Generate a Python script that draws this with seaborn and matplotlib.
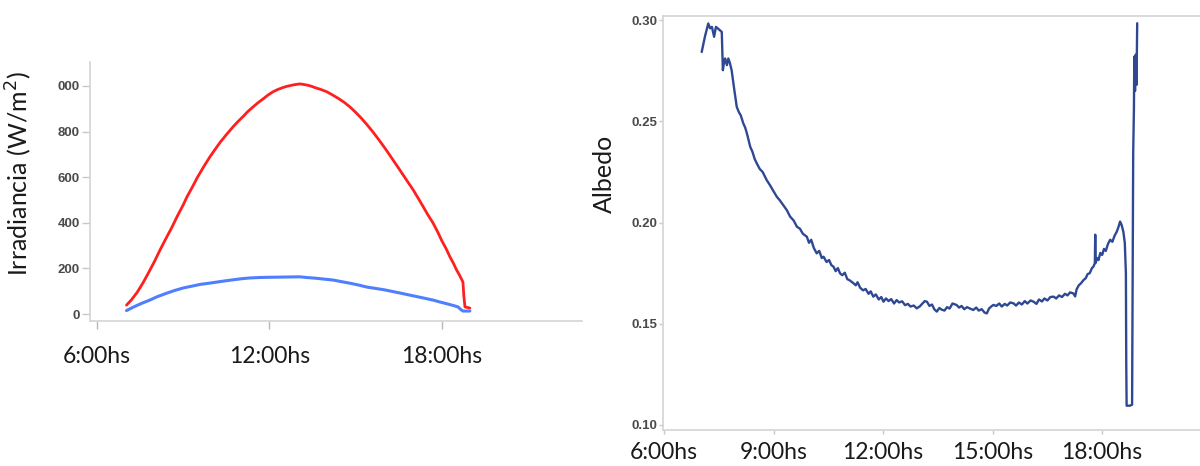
import matplotlib
matplotlib.use("Agg")
import matplotlib.pyplot as plt
import seaborn as sns
import pandas as pd

# ---------------- data ----------------
# Left panel: irradiance (W/m2) vs hour of day
irr_hours_red = [7.03, 7.20, 7.40, 7.60, 7.80, 8.00, 8.20, 8.43, 8.60, 8.80, 9.00, 9.13, 9.30,
                 9.50, 9.70, 9.93, 10.10, 10.30, 10.50, 10.73, 10.90, 11.10, 11.25, 11.43,
                 11.60, 11.80, 11.95, 12.12, 12.30, 12.45, 12.60, 12.85, 13.06, 13.30, 13.45,
                 13.60, 13.80, 14.00, 14.20, 14.40, 14.60, 14.80, 15.00, 15.20, 15.40, 15.60,
                 15.80, 16.00, 16.15, 16.30, 16.50, 16.70, 16.85, 17.00, 17.20, 17.35, 17.50,
                 17.69, 17.85, 18.00, 18.15, 18.28, 18.40, 18.50, 18.62, 18.73, 18.76, 18.80,
                 18.97]
irr_red = [39, 62, 95, 136, 182, 230, 282, 338, 378, 430, 478, 513, 552,
           600, 643, 689, 720, 755, 786, 820, 843, 868, 888, 908,
           926, 945, 960, 974, 985, 992, 998, 1005, 1009, 1004, 999,
           992, 984, 974, 960, 945, 928, 908, 884, 858, 829, 798,
           765, 730, 703, 675, 638, 600, 572, 544, 502, 470, 437,
           399, 360, 320, 285, 250, 222, 195, 168, 140, 80, 31,
           26]

irr_hours_blue = [7.03, 7.20, 7.40, 7.60, 7.84, 8.10, 8.40, 8.70, 9.00, 9.30, 9.60, 9.90,
                  10.17, 10.50, 10.80, 11.05, 11.32, 11.65, 12.00, 12.50, 13.06, 13.30, 13.60,
                  13.90, 14.21, 14.50, 14.80, 15.10, 15.39, 15.70, 16.00, 16.27, 16.54, 16.80,
                  17.10, 17.40, 17.69, 17.95, 18.20, 18.40, 18.56, 18.65, 18.73, 18.97]
irr_blue = [15, 26, 38, 49, 61, 76, 90, 103, 114, 122, 130, 135,
            140, 146, 151, 155, 158, 160, 161, 162, 163, 160, 157,
            153, 149, 142, 135, 127, 118, 112, 106, 99, 92, 85,
            77, 69, 61, 52, 44, 37, 31, 20, 13, 13]

irr_yticks = [0, 200, 400, 600, 800, 1000]
irr_yticklabels = ["0", "200", "400", "600", "800", "000"]
irr_xticks = [6, 12, 18]
irr_xticklabels = ["6:00hs", "12:00hs", "18:00hs"]

# Right panel: albedo vs hour of day
alb_hours = [7.03, 7.12, 7.21, 7.26, 7.31, 7.37, 7.42, 7.50, 7.58, 7.61, 7.64, 7.67, 7.72, 7.76,
             7.80, 7.85, 7.92, 7.99, 8.05, 8.10, 8.17, 8.22, 8.27, 8.36, 8.42, 8.48, 8.54, 8.62,
             8.70, 8.81, 8.90, 8.98, 9.09, 9.17, 9.25, 9.36, 9.45, 9.55, 9.64, 9.72, 9.80, 9.91,
             9.97, 10.03, 10.10, 10.18, 10.25, 10.32, 10.37, 10.45, 10.52, 10.58, 10.64, 10.70,
             10.76, 10.82, 10.88, 10.95, 11.02, 11.08, 11.19, 11.25, 11.30, 11.37, 11.45, 11.52,
             11.60, 11.66, 11.73, 11.80, 11.88, 11.95, 12.01, 12.08, 12.15, 12.22, 12.30, 12.37,
             12.44, 12.52, 12.60, 12.68, 12.75, 12.84, 12.92, 13.00, 13.08, 13.14, 13.20, 13.27,
             13.34, 13.40, 13.47, 13.54, 13.60, 13.68, 13.75, 13.82, 13.90, 14.01, 14.08, 14.15,
             14.22, 14.30, 14.38, 14.47, 14.55, 14.62, 14.70, 14.78, 14.84, 14.90, 14.96, 15.02,
             15.10, 15.18, 15.25, 15.33, 15.40, 15.48, 15.57, 15.64, 15.72, 15.80, 15.88, 15.95,
             16.04, 16.12, 16.20, 16.27, 16.35, 16.42, 16.50, 16.58, 16.67, 16.74, 16.82, 16.90,
             16.98, 17.05, 17.12, 17.21, 17.26, 17.30, 17.36, 17.42, 17.49, 17.55, 17.60, 17.66,
             17.72, 17.76, 17.80, 17.81, 17.82, 17.86, 17.90, 17.95, 18.00, 18.05, 18.10, 18.16,
             18.22, 18.28, 18.34, 18.40, 18.45, 18.49, 18.53, 18.58, 18.62, 18.65, 18.66, 18.67,
             18.70, 18.76, 18.82, 18.83, 18.85, 18.87, 18.88, 18.90, 18.92, 18.94, 18.96]
alb_values = [0.2843, 0.2920, 0.2984, 0.2960, 0.2967, 0.2918, 0.2967, 0.2955, 0.2942, 0.2753,
              0.2790, 0.2811, 0.2778, 0.2811, 0.2790, 0.2753, 0.2660, 0.2572, 0.2545, 0.2530,
              0.2490, 0.2470, 0.2440, 0.2374, 0.2350, 0.2315, 0.2292, 0.2265, 0.2250, 0.2210,
              0.2185, 0.2160, 0.2127, 0.2110, 0.2090, 0.2062, 0.2030, 0.2010, 0.1979, 0.1970,
              0.1945, 0.1930, 0.1900, 0.1915, 0.1875, 0.1848, 0.1860, 0.1825, 0.1831, 0.1805,
              0.1815, 0.1790, 0.1782, 0.1760, 0.1775, 0.1749, 0.1740, 0.1752, 0.1720, 0.1715,
              0.1700, 0.1690, 0.1705, 0.1678, 0.1665, 0.1672, 0.1648, 0.1660, 0.1634, 0.1645,
              0.1620, 0.1632, 0.1609, 0.1625, 0.1612, 0.1622, 0.1600, 0.1617, 0.1605, 0.1611,
              0.1592, 0.1598, 0.1585, 0.1590, 0.1576, 0.1585, 0.1600, 0.1612, 0.1609, 0.1588,
              0.1595, 0.1572, 0.1560, 0.1578, 0.1570, 0.1565, 0.1582, 0.1575, 0.1600, 0.1593,
              0.1580, 0.1588, 0.1572, 0.1582, 0.1575, 0.1568, 0.1580, 0.1565, 0.1572, 0.1555,
              0.1551, 0.1575, 0.1585, 0.1593, 0.1588, 0.1600, 0.1585, 0.1598, 0.1590, 0.1605,
              0.1601, 0.1590, 0.1605, 0.1595, 0.1612, 0.1600, 0.1615, 0.1609, 0.1598, 0.1620,
              0.1610, 0.1625, 0.1615, 0.1632, 0.1634, 0.1625, 0.1640, 0.1632, 0.1648, 0.1640,
              0.1655, 0.1650, 0.1635, 0.1670, 0.1690, 0.1700, 0.1716, 0.1725, 0.1745, 0.1750,
              0.1775, 0.1782, 0.1800, 0.1940, 0.1800, 0.1825, 0.1815, 0.1850, 0.1840, 0.1870,
              0.1860, 0.1895, 0.1915, 0.1905, 0.1935, 0.1955, 0.1980, 0.2005, 0.1990, 0.1955,
              0.1900, 0.1750, 0.1300, 0.1095, 0.1095, 0.1095, 0.1100, 0.1490, 0.2345, 0.2560,
              0.2820, 0.2650, 0.2830, 0.2680, 0.2985]

alb_yticks = [0.10, 0.15, 0.20, 0.25, 0.30]
alb_yticklabels = ["0.10", "0.15", "0.20", "0.25", "0.30"]
alb_xticks = [6, 9, 12, 15, 18]
alb_xticklabels = ["6:00hs", "9:00hs", "12:00hs", "15:00hs", "18:00hs"]

# ---------------- style ----------------
sns.set_style("white")
plt.rcParams["font.family"] = ["Lato", "DejaVu Sans"]

RED = "#ff1f1f"
BLUE = "#4f7fff"
NAVY = "#2f4894"
SPINE = "#d4d4d4"
TICKTXT = "#4a4a4a"

fig = plt.figure(figsize=(12, 4.66), dpi=100)

# ---------------- left panel ----------------
ax1 = fig.add_axes([0.075, 0.311, 0.41, 0.556])
df_red = pd.DataFrame({"hour": irr_hours_red, "irr": irr_red})
df_blue = pd.DataFrame({"hour": irr_hours_blue, "irr": irr_blue})
sns.lineplot(data=df_red, x="hour", y="irr", ax=ax1, color=RED, linewidth=2.0, estimator=None)
sns.lineplot(data=df_blue, x="hour", y="irr", ax=ax1, color=BLUE, linewidth=2.2, estimator=None)
ax1.set_xlim(5.76, 22.87)
ax1.set_ylim(-31, 1105)
ax1.set_xticks(irr_xticks)
ax1.set_xticklabels(irr_xticklabels, fontsize=16.5, color="#1a1a1a")
ax1.set_yticks(irr_yticks)
ax1.set_yticklabels(irr_yticklabels, fontsize=9.5, color=TICKTXT, family="Liberation Sans",
                    fontweight="bold")
ax1.tick_params(axis="x", length=6, width=1, color="#b8b8b8", pad=12, direction="out", bottom=True)
ax1.tick_params(axis="y", length=6, width=1, color="#c8c8c8", pad=1.5, direction="out", left=True)
for s in ["top", "right"]:
    ax1.spines[s].set_visible(False)
for s in ["left", "bottom"]:
    ax1.spines[s].set_color(SPINE)
    ax1.spines[s].set_linewidth(1.2)
ax1.set_xlabel("")
ax1.set_ylabel("Irradiancia (W/m$^2$)", fontsize=18, color="#1a1a1a")
ax1.yaxis.set_label_coords(-0.114, 0.571)

# ---------------- right panel ----------------
ax2 = fig.add_axes([0.5525, 0.0773, 0.4475, 0.888])
df_alb = pd.DataFrame({"hour": alb_hours, "albedo": alb_values})
sns.lineplot(data=df_alb, x="hour", y="albedo", ax=ax2, color=NAVY, linewidth=1.7, estimator=None)
ax2.set_xlim(5.97, 20.68)
ax2.set_ylim(0.0975, 0.302)
ax2.set_xticks(alb_xticks)
ax2.set_xticklabels(alb_xticklabels, fontsize=16.5, color="#1a1a1a")
ax2.set_yticks(alb_yticks)
ax2.set_yticklabels(alb_yticklabels, fontsize=9.5, color=TICKTXT, family="Liberation Sans",
                    fontweight="bold")
ax2.tick_params(axis="x", length=3, width=1, color="#c8c8c8", pad=6, direction="out", bottom=True)
ax2.tick_params(axis="y", length=3, width=1, color="#c8c8c8", pad=1, direction="out", left=True)
ax2.spines["right"].set_visible(False)
for s in ["left", "bottom", "top"]:
    ax2.spines[s].set_color(SPINE)
    ax2.spines[s].set_linewidth(1.2)
ax2.set_xlabel("")
ax2.set_ylabel("Albedo", fontsize=18, color="#1a1a1a")
ax2.yaxis.set_label_coords(-0.088, 0.62)

fig.savefig("out.png", dpi=100, facecolor="white")
